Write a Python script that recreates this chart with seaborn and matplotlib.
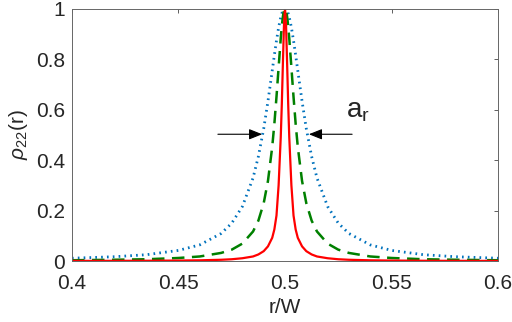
import numpy as np
import pandas as pd
import matplotlib
matplotlib.use("Agg")
import matplotlib.pyplot as plt
import seaborn as sns

# r/W positions
r = [0.4, 0.42, 0.435, 0.45, 0.46, 0.47, 0.475, 0.48, 0.485, 0.4875,
     0.49, 0.492, 0.494, 0.495, 0.496, 0.497, 0.498, 0.4985, 0.499, 0.4995,
     0.5,
     0.5005, 0.501, 0.5015, 0.502, 0.503, 0.504, 0.505, 0.506, 0.508, 0.51,
     0.5125, 0.515, 0.52, 0.525, 0.53, 0.54, 0.55, 0.565, 0.58, 0.6]

# widest curve (blue dotted)
rho_wide = [0.011, 0.017, 0.025, 0.042, 0.064, 0.109, 0.150, 0.216, 0.329, 0.414,
            0.524, 0.633, 0.754, 0.815, 0.873, 0.925, 0.965, 0.980, 0.991, 0.998,
            1.0,
            0.998, 0.991, 0.980, 0.965, 0.925, 0.873, 0.815, 0.754, 0.633, 0.524,
            0.414, 0.329, 0.216, 0.150, 0.109, 0.064, 0.042, 0.025, 0.017, 0.011]

# middle curve (green dashed)
rho_mid = [0.003, 0.005, 0.007, 0.012, 0.018, 0.032, 0.045, 0.069, 0.117, 0.160,
           0.229, 0.317, 0.452, 0.543, 0.650, 0.767, 0.881, 0.930, 0.967, 0.992,
           1.0,
           0.992, 0.967, 0.930, 0.881, 0.767, 0.650, 0.543, 0.452, 0.317, 0.229,
           0.160, 0.117, 0.069, 0.045, 0.032, 0.018, 0.012, 0.007, 0.005, 0.003]

# narrow curve (red solid)
rho_narrow = [0.0004, 0.0007, 0.001, 0.0018, 0.0028, 0.0049, 0.007, 0.011, 0.018, 0.026,
              0.039, 0.058, 0.092, 0.125, 0.18, 0.30, 0.49, 0.62, 0.78, 0.93,
              1.0,
              0.93, 0.78, 0.62, 0.49, 0.30, 0.18, 0.125, 0.092, 0.058, 0.039,
              0.026, 0.018, 0.011, 0.007, 0.0049, 0.0028, 0.0018, 0.001, 0.0007, 0.0004]

# width marker
arrow_y = 0.502
left_tip, left_tail = 0.4893, 0.4685
right_tip, right_tail = 0.5112, 0.5315

df = pd.DataFrame({"r": r, "wide": rho_wide, "mid": rho_mid, "narrow": rho_narrow})

sns.set_style("white")
plt.rcParams['font.family'] = ['Liberation Sans', 'DejaVu Sans']
plt.rcParams['mathtext.fontset'] = 'custom'
plt.rcParams['mathtext.rm'] = 'Liberation Sans'
plt.rcParams['mathtext.it'] = 'Liberation Sans:italic'

fig = plt.figure(figsize=(5.12, 3.22), dpi=100)
ax = fig.add_axes([0.1406, 0.1894, 0.8321, 0.7842])

sns.lineplot(data=df, x="r", y="wide", ax=ax, color="#0072BD", lw=2.0,
             linestyle=(0, (0.6, 1.5)), dash_capstyle="butt")
sns.lineplot(data=df, x="r", y="mid", ax=ax, color="#008000", lw=1.8,
             linestyle=(0, (5, 3)))
sns.lineplot(data=df, x="r", y="narrow", ax=ax, color="#FF0000", lw=1.6)

ax.set_xlim(0.4, 0.6)
ax.set_ylim(0, 1)
ax.set_xticks([0.4, 0.45, 0.5, 0.55, 0.6])
ax.set_xticklabels(["0.4", "0.45", "0.5", "0.55", "0.6"])
ax.set_yticks([0, 0.2, 0.4, 0.6, 0.8, 1])
ax.set_yticklabels(["0", "0.2", "0.4", "0.6", "0.8", "1"])
ax.tick_params(direction="in", length=3, width=0.6, color="#444444",
               labelsize=15, top=True, right=True)
ax.tick_params(axis="x", pad=9)
ax.tick_params(axis="y", pad=5)
for s in ax.spines.values():
    s.set_color("#666666")
    s.set_linewidth(0.7)

ax.set_xlabel("r/W", fontsize=15, labelpad=4)
ax.set_ylabel(r"$\rho_{22}$(r)", fontsize=15, labelpad=4)

arr = dict(arrowstyle="-|>,head_length=0.8,head_width=0.32", color="black",
           lw=0.8, shrinkA=0, shrinkB=0)
ax.annotate("", xy=(left_tip, arrow_y), xytext=(left_tail, arrow_y), arrowprops=arr)
ax.annotate("", xy=(right_tip, arrow_y), xytext=(right_tail, arrow_y), arrowprops=arr)
ax.text(0.5285, 0.57, r"a$_\mathregular{r}$", fontsize=20, ha="left", va="baseline")

fig.savefig("out.png", dpi=100)
